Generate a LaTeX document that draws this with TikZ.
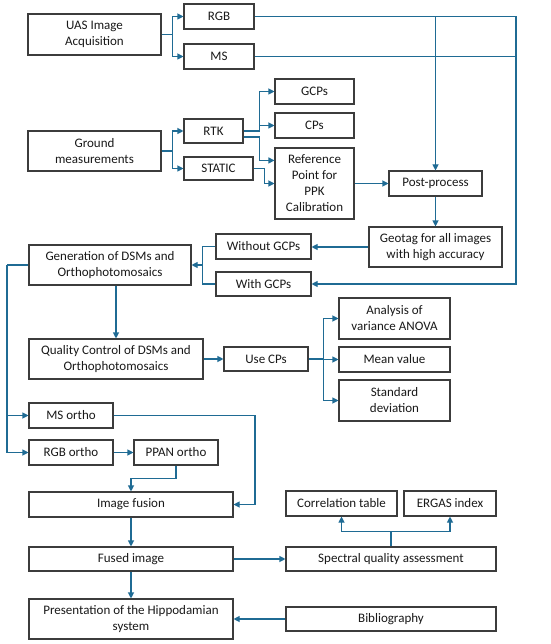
\documentclass[tikz,border=0pt]{standalone}
\usepackage{fontspec}
\setmainfont{Carlito}
\usetikzlibrary{arrows.meta,calc}
\definecolor{conn}{HTML}{1F6B94}
\definecolor{bord}{HTML}{3C3C3C}
\tikzset{
  box/.style={draw=bord, line width=1.1pt, fill=white, inner sep=0pt, align=center,
    font=\fontsize{13}{16}\selectfont, text=black!90},
  ln/.style={draw=conn, line width=1.1pt},
  arr/.style={ln, -{Triangle[length=6pt,width=6pt]}},
}
\newcommand{\bx}[6]{\node[box, minimum width=#4pt, minimum height=#5pt] (#1) at (#2,#3) {#6};}
\begin{document}
\begin{tikzpicture}[x=1pt,y=-1pt]
\useasboundingbox (0,0) rectangle (550,644);
\bx{uas}{94.5}{34.5}{133}{41}{UAS Image\\Acquisition}
\bx{rgb}{219}{16.5}{70}{25}{RGB}
\bx{ms}{219}{56.5}{70}{25}{MS}
\bx{gcps}{314.5}{91.5}{79}{25}{GCPs}
\bx{cps}{314.5}{125.5}{79}{25}{CPs}
\bx{rtk}{213.5}{131}{59}{24}{RTK}
\bx{static}{218.5}{168.5}{69}{23}{STATIC}
\bx{ground}{94.5}{151}{133}{40}{Ground\\measurements}
\bx{ref}{314.5}{183.5}{79}{71}{Reference\\Point for\\PPK\\Calibration}
\bx{post}{435.5}{183.5}{93}{25}{Post-process}
\bx{geotag}{435.5}{247}{133}{40}{Geotag for all images\\with high accuracy}
\bx{without}{263.5}{246.5}{95}{25}{Without GCPs}
\bx{with}{263.5}{284}{95}{24}{With GCPs}
\bx{gen}{110}{265}{162}{40}{Generation of DSMs and\\Orthophotomosaics}
\bx{qc}{116}{359}{174}{40}{Quality Control of DSMs and\\Orthophotomosaics}
\bx{usecps}{266}{359}{84}{24}{Use CPs}
\bx{anova}{394.5}{318.5}{111}{41}{Analysis of\\variance ANOVA}
\bx{mean}{394.5}{359.5}{111}{25}{Mean value}
\bx{std}{394.5}{400.5}{111}{41}{Standard\\deviation}
\bx{msortho}{71}{415.5}{84}{25}{MS ortho}
\bx{rgbortho}{71}{452.5}{84}{25}{RGB ortho}
\bx{ppan}{176}{452.5}{84}{25}{PPAN ortho}
\bx{fusion}{131}{504.5}{204}{25}{Image fusion}
\bx{corr}{341.5}{503.5}{111}{25}{Correlation table}
\bx{ergas}{450}{503.5}{92}{25}{ERGAS index}
\bx{fused}{131}{559}{204}{24}{Fused image}
\bx{spectral}{391}{559}{210}{24}{Spectral quality assessment}
\bx{pres}{131}{619}{204}{40}{Presentation of the Hippodamian\\system}
\bx{biblio}{391}{619}{210}{24}{Bibliography}

% UAS branches
\coordinate (uj) at ($(uas.east)+(11,0)$);
\draw[ln] (uas.east) -- (uj);
\draw[arr] (uj) |- (rgb.west);
\draw[arr] (uj) |- (ms.west);
% RGB / MS to right
\coordinate (rj) at (516,16.5);
\draw[ln] (rgb.east) -- (rj);
\draw[ln] (ms.east) -- (ms.east -| rj);
\draw[arr] (post.north |- rgb.east) -- (post.north);
\draw[arr] (rj) |- (with.east);
% Ground
\coordinate (gj) at ($(ground.east)+(11,0)$);
\draw[ln] (ground.east) -- (gj);
\draw[arr] (gj) |- (rtk.west);
\draw[arr] (gj) |- (static.west);
% RTK
\coordinate (tj) at ($(rtk.east)+(16,0)$);
\draw[ln] (rtk.east) -- (tj);
\draw[arr] (tj) |- (gcps.west);
\draw[arr] (tj) |- (cps.west);
\draw[arr] ([yshift=-6pt]rtk.east) -| ([yshift=-6pt]tj) |- ($(ref.north west)+(0,13)$);
% STATIC
\draw[arr] (static.east) -- ++(11,0) |- (ref.west);
\draw[arr] (ref.east) -- (post.west);
\draw[arr] (post.south) -- (geotag.north);
\draw[arr] (geotag.west) -- (without.east |- geotag.west);
% Without/With join
\coordinate (wj) at ($(without.west)+(-13,0)$);
\draw[ln] (without.west) -- (wj) |- (with.west);
\draw[arr] (wj |- gen.east) -- (gen.east);
% Gen left branch
\coordinate (lj) at (7,265);
\draw[ln] (gen.west) -- (lj);
\draw[arr] (lj) |- (msortho.west);
\draw[arr] (lj) |- (rgbortho.west);
\draw[arr] (qc.north |- gen.south) -- (qc.north);
\draw[arr] (qc.east) -- (usecps.west);
% Use CPs branch
\coordinate (cj) at ($(usecps.east)+(15,0)$);
\draw[ln] (usecps.east) -- (cj);
\draw[arr] (cj) |- (anova.west);
\draw[arr] (cj) |- (mean.west);
\draw[arr] (cj) |- (std.west);
% Orthos
\draw[arr] (rgbortho.east) -- (ppan.west);
\draw[arr] (ppan.south) -- ++(0,13) -| (fusion.north);
\draw[arr] (msortho.east) -- (255,415.5) |- (fusion.east);
\draw[arr] (fusion.south) -- (fused.north);
\draw[arr] (fused.east) -- (spectral.west);
\coordinate (sj) at ($(spectral.north)+(0,-15)$);
\draw[ln] (spectral.north) -- (sj);
\draw[arr] (sj) -| (corr.south);
\draw[arr] (sj) -| (ergas.south);
\draw[arr] (fused.south) -- (pres.north);
\draw[arr] (biblio.west) -- (pres.east);
\end{tikzpicture}
\end{document}
